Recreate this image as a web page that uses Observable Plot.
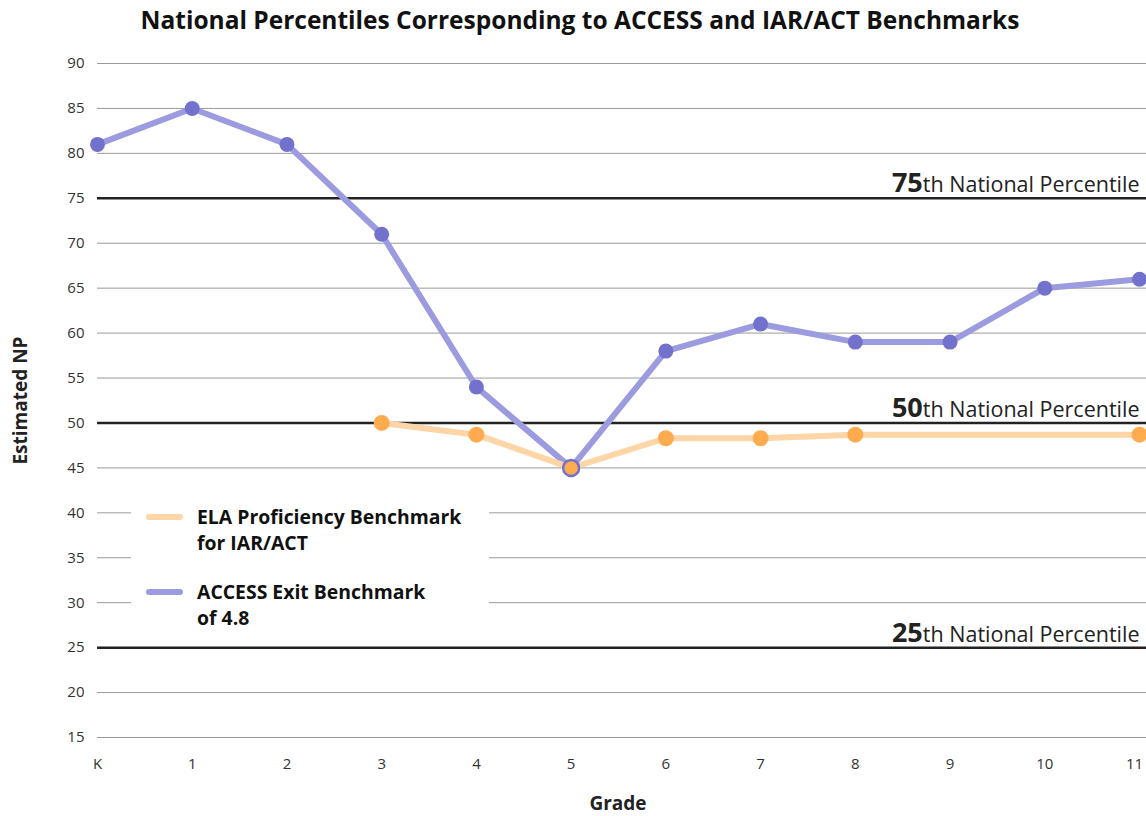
<!DOCTYPE html>
<html><head><meta charset="utf-8">
<script src="https://cdn.jsdelivr.net/npm/d3@7"></script>
<script src="https://cdn.jsdelivr.net/npm/@observablehq/plot@0.6"></script>
<style>
body{margin:0;background:#fff;font-family:"Open Sans",sans-serif;}
#wrap{position:relative;width:1146px;height:816px;overflow:hidden;}
#title{position:absolute;left:0;top:0;width:1146px;height:42px;line-height:40px;text-align:center;font-weight:700;font-size:24.5px;color:#111;padding-left:14px;box-sizing:border-box;white-space:nowrap;z-index:2;}
#chart svg{display:block;}
#legend{position:absolute;left:131px;top:500px;width:358px;height:118px;background:#fff;}
.item{position:absolute;left:0;width:358px;}
.sw{position:absolute;left:15px;width:37px;height:6px;border-radius:3px;}
.lt{position:absolute;left:66px;font-weight:700;font-size:19.4px;line-height:26px;color:#111;white-space:nowrap;}
</style></head>
<body>
<div id="wrap">
<div id="chart"></div>
<div id="title">National Percentiles Corresponding to ACCESS and IAR/ACT Benchmarks</div>
<div id="legend"></div>
</div>
<script>
const gradeLabels = ["K","1","2","3","4","5","6","7","8","9","10","11"];
const accessGrades = ["K","1","2","3","4","5","6","7","8","9","10","11"];
const accessValues = [81,85,81,71,54,45,58,61,59,59,65,66];
const elaGrades = ["3","4","5","6","7","8","11"];
const elaValues = [50,48.7,45,48.3,48.3,48.7,48.7];
const percentiles = [25,50,75];
const yTicks = [15,20,25,30,35,40,45,50,55,60,65,70,75,80,85,90];
const seriesNames = ["ELA Proficiency Benchmark\nfor IAR/ACT","ACCESS Exit Benchmark\nof 4.8"];
const seriesLine = ["#fed5a6","#9c9be0"];
const seriesDot = ["#ffab4f","#7271cc"];

const idx = g => gradeLabels.indexOf(g);
const access = accessGrades.map((g,i)=>({x:idx(g), y:accessValues[i]}));
const ela = elaGrades.map((g,i)=>({x:idx(g), y:elaValues[i]}));
const overlap = ela.filter(d => access.some(a => a.x === d.x && a.y === d.y));
const gridVals = yTicks.filter(v => !percentiles.includes(v));

const plot = Plot.plot({
  width:1146, height:816,
  marginTop:63, marginBottom:79, marginLeft:97, marginRight:0,
  style:{fontFamily:"'Open Sans',sans-serif", fontSize:"15px", color:"#333", background:"#fff"},
  x:{domain:[0, 11 + 7/94.73], ticks:d3.range(12), tickFormat:i=>gradeLabels[i]},
  y:{domain:[15,90], ticks:yTicks},
  marks:[
    Plot.ruleY(gridVals,{stroke:"#9a9a9a", strokeWidth:1}),
    Plot.ruleY(percentiles,{stroke:"#222", strokeWidth:2.5}),
    Plot.axisY({ticks:yTicks, tickSize:0, tickPadding:13, label:null, fontSize:15}),
    Plot.axisX({ticks:d3.range(12), tickFormat:i=>gradeLabels[i], tickSize:0, tickPadding:21, label:null, fontSize:15}),
    Plot.line(access,{x:"x", y:"y", stroke:seriesLine[1], strokeWidth:6}),
    Plot.line(ela,{x:"x", y:"y", stroke:seriesLine[0], strokeWidth:6}),
    Plot.dot(access,{x:"x", y:"y", r:7.5, fill:seriesDot[1]}),
    Plot.dot(ela,{x:"x", y:"y", r:8, fill:seriesDot[0]}),
    Plot.dot(overlap,{x:"x", y:"y", r:8, fill:seriesDot[0], stroke:seriesDot[1], strokeWidth:2.5}),
    Plot.text(percentiles,{x:11, y:d=>d, text:d=>String(d), textAnchor:"end", lineAnchor:"bottom", dy:-6}),
    Plot.text(["Estimated NP"],{frameAnchor:"left", text:d=>d, rotate:-90, textAnchor:"middle", dx:-77, fontWeight:700, fontSize:19, fill:"#222"}),
    Plot.text(["Grade"],{frameAnchor:"bottom", text:d=>d, lineAnchor:"middle", dy:66, dx:-4, fontWeight:700, fontSize:19, fill:"#222"})
  ]
});
d3.select(plot).selectAll('g[aria-label="text"] text').each(function(){
  const t = d3.select(this); const n = t.text();
  if (!percentiles.map(String).includes(n)) return;
  t.text(null);
  t.append("tspan").attr("font-weight",700).attr("font-size",27).attr("fill","#222").text(n);
  t.append("tspan").attr("font-size",21.5).attr("fill","#222").text("th National Percentile");
});
const xl = d3.select(plot).selectAll('g[aria-label="x-axis tick label"] text').nodes();
if (xl.length) d3.select(xl[xl.length-1]).attr("dx", -5);
document.getElementById("chart").appendChild(plot);

const leg = d3.select("#legend");
[0,1].forEach(j=>{
  const top = j===0 ? 4 : 79;
  const it = leg.append("div").attr("class","item").style("top",top+"px");
  it.append("div").attr("class","sw").style("top","10px").style("background",seriesLine[j]);
  const lt = it.append("div").attr("class","lt");
  seriesNames[j].split("\n").forEach(l=>lt.append("div").text(l));
});
</script>
</body></html>
